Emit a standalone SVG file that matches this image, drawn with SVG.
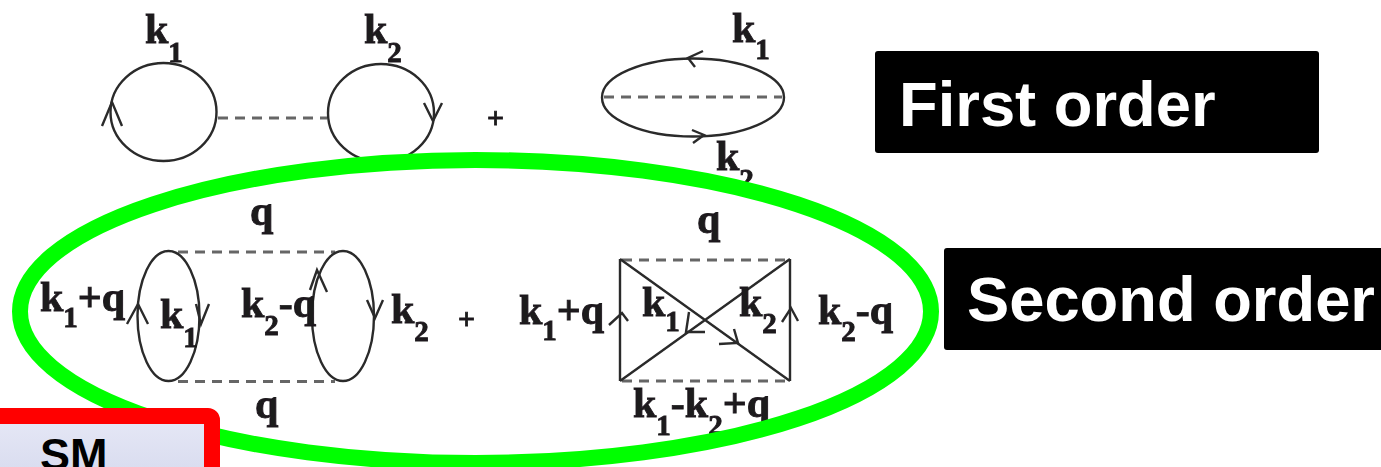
<svg xmlns="http://www.w3.org/2000/svg" width="1381" height="467" viewBox="0 0 1381 467">
<style>
.l{fill:none;stroke:#2a2a2a;stroke-width:2.4}
.d{fill:none;stroke:#666;stroke-width:3;stroke-dasharray:10 7}
.t{font-family:"Liberation Serif","Times New Roman",serif;font-weight:700;font-size:42px;fill:#1c1a1c;stroke:#1c1a1c;stroke-width:.9}
.s{font-size:29px}
.p{font-family:"Liberation Serif","Times New Roman",serif;font-weight:700;font-size:30px;fill:#1c1a1c;stroke:#1c1a1c;stroke-width:.8}
.w{font-family:"Liberation Sans",Arial,sans-serif;font-weight:700;font-size:63.300px;fill:#fff}
</style>
<defs>
<linearGradient id="g" x1="0" y1="0" x2="0" y2="1"><stop offset="0" stop-color="#e6e8f6"/><stop offset="1" stop-color="#cfd3ea"/></linearGradient>
<filter id="b" x="-5%" y="-5%" width="110%" height="110%"><feGaussianBlur stdDeviation="0.5"/></filter>
</defs>
<rect width="1381" height="467" fill="#fff"/>
<g id="connectors" filter="url(#b)">
<path class="d" d="M218 118H327"/>
<path class="d" d="M604 97H782"/>
<path class="d" d="M178 252H335"/>
<path class="d" d="M178 381.500H335"/>
<path class="d" d="M622 260H790"/>
<path class="d" d="M622 381H790"/>
</g>
<g id="first-order-direct" filter="url(#b)">
<ellipse class="l" cx="163.500" cy="112" rx="53" ry="49"/>
<path class="l" d="M102 126L112 102L122 126"/>
<ellipse class="l" cx="381" cy="113" rx="53" ry="49"/>
<path class="l" d="M424 103L433 121L442 103"/>
<text class="t" x="145" y="43">k<tspan class="s" dy="19">1</tspan></text>
<text class="t" x="364" y="43">k<tspan class="s" dy="19">2</tspan></text>
<text class="p" x="487" y="128">+</text>
</g>
<g id="first-order-exchange" filter="url(#b)">
<ellipse class="l" cx="693" cy="97.500" rx="91" ry="39"/>
<path class="l" d="M703 51L688 58L695 67"/>
<path class="l" d="M692 130L704 135L693 143"/>
<text class="t" x="732" y="42">k<tspan class="s" dy="17">1</tspan></text>
<text class="t" x="716" y="170">k<tspan class="s" dy="19">2</tspan></text>
</g>
<g id="second-order-direct" filter="url(#b)">
<ellipse class="l" cx="168.500" cy="316" rx="31" ry="65"/>
<ellipse class="l" cx="343" cy="316" rx="31" ry="65"/>
<path class="l" d="M127 324L138 304L148 324"/>
<path class="l" d="M196 304L201 324L209 304"/>
<path class="l" d="M310 290L317 270L327 292"/>
<path class="l" d="M367 300L375 318L383 300"/>
<text class="t" x="250" y="225">q</text>
<text class="t" x="40" y="311">k<tspan class="s" dy="16">1</tspan><tspan dy="-16">+q</tspan></text>
<text class="t" x="160" y="328">k<tspan class="s" dy="19">1</tspan></text>
<text class="t" x="241" y="317">k<tspan class="s" dy="18">2</tspan><tspan dy="-18">-q</tspan></text>
<text class="t" x="391" y="323">k<tspan class="s" dy="18">2</tspan></text>
<text class="p" x="458" y="329">+</text>
<text class="t" x="255" y="418">q</text>
</g>
<g id="second-order-exchange" filter="url(#b)">
<path class="l" d="M620 259V381M790 259V381M620 259L790 381M620 381L790 259"/>
<path class="l" d="M609 325L622 313L628 321"/>
<path class="l" d="M782 322L791 308L798 321"/>
<path class="l" d="M689 312L686 332H705"/>
<path class="l" d="M734 329L738 343L719 344"/>
<text class="t" x="697" y="233">q</text>
<text class="t" x="519" y="324">k<tspan class="s" dy="16">1</tspan><tspan dy="-16">+q</tspan></text>
<text class="t" x="642" y="316">k<tspan class="s" dy="15">1</tspan></text>
<text class="t" x="739" y="316">k<tspan class="s" dy="17">2</tspan></text>
<text class="t" x="818" y="324">k<tspan class="s" dy="17">2</tspan><tspan dy="-17">-q</tspan></text>
<text class="t" x="633" y="417">k<tspan class="s" dy="18">1</tspan><tspan dy="-18">-k</tspan><tspan class="s" dy="18">2</tspan><tspan dy="-18">+q</tspan></text>
</g>
<g id="second-order-ring"><ellipse cx="475.500" cy="311.500" rx="455.500" ry="151.500" fill="none" stroke="#00ff00" stroke-width="16"/></g>
<g id="first-order-label"><rect x="875" y="51" width="444" height="102" rx="3" fill="#000"/><text class="w" x="899" y="126">First order</text></g>
<g id="second-order-label"><rect x="944" y="248" width="440" height="102" rx="3" fill="#000"/><text class="w" x="967" y="321">Second order</text></g>
<g id="sm-box"><rect x="-20" y="416" width="232" height="100" rx="4" fill="url(#g)" stroke="#ff0000" stroke-width="16"/><text x="40" y="470" font-family="'Liberation Sans',Arial,sans-serif" font-weight="700" font-size="45" fill="#000">SM</text></g>
</svg>
